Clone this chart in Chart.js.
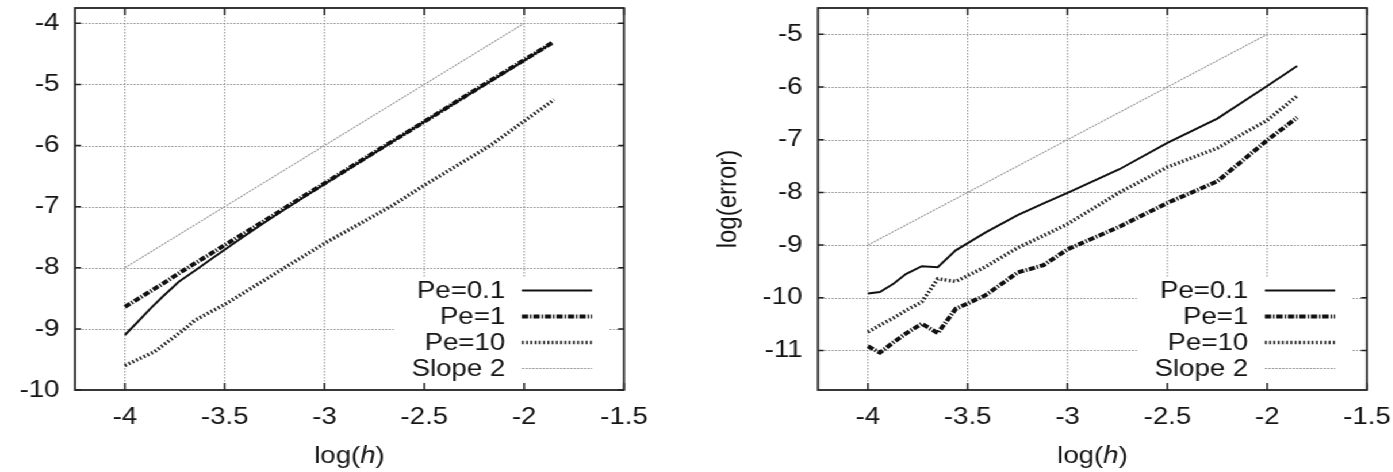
<!DOCTYPE html>
<html><head><meta charset="utf-8">
<script src="https://cdn.jsdelivr.net/npm/chart.js@4/dist/chart.umd.min.js"></script>
<style>
html,body{margin:0;padding:0;background:#fff;overflow:hidden;}
#wrap{position:absolute;left:0;top:0;width:1212px;height:472px;transform:scaleX(1.15);transform-origin:0 0;}
#c1{position:absolute;left:0;top:0;}
#c2{position:absolute;left:605px;top:0;}
</style></head><body>
<div id="wrap"><canvas id="c1" width="605" height="472"></canvas><canvas id="c2" width="607" height="472"></canvas></div>
<script>
// ---------- data ----------
const seriesNames = ['Pe=0.1', 'Pe=1', 'Pe=10', 'Slope 2'];
const xTickValues = [-4, -3.5, -3, -2.5, -2, -1.5];
const leftYTicks  = [-10, -9, -8, -7, -6, -5, -4];
const rightYTicks = [-11, -10, -9, -8, -7, -6, -5];

// left panel
const leftH      = [-4, -3.94, -3.87, -3.81, -3.73, -3.65, -3.56, -3.41, -3.25, -3.12, -3.0, -2.74, -2.5, -2.25, -2.0, -1.86];
const leftPe01   = [-9.10, -8.90, -8.66, -8.47, -8.23, -8.05, -7.84, -7.50, -7.15, -6.88, -6.63, -6.10, -5.61, -5.11, -4.61, -4.32];
const leftPe1    = [-8.64, -8.52, -8.38, -8.26, -8.09, -7.93, -7.75, -7.45, -7.13, -6.86, -6.62, -6.09, -5.61, -5.10, -4.60, -4.32];
const leftPe10H  = [-4, -3.85, -3.70, -3.65, -3.5, -3.2, -3.0, -2.67, -2.5, -2.17, -2.0, -1.85];
const leftPe10   = [-9.60, -9.37, -9.00, -8.86, -8.60, -8.00, -7.60, -7.00, -6.65, -6.00, -5.60, -5.25];
const leftSlopeH = [-4, -2];
const leftSlope  = [-8, -4];

// right panel
const rightH      = [-4, -3.94, -3.87, -3.81, -3.73, -3.65, -3.56, -3.41, -3.25, -3.12, -3.0, -2.74, -2.5, -2.25, -2.0, -1.85];
const rightPe01   = [-9.92, -9.89, -9.73, -9.55, -9.40, -9.42, -9.10, -8.76, -8.43, -8.21, -8.01, -7.56, -7.06, -6.60, -5.98, -5.60];
const rightPe1    = [-10.92, -11.04, -10.84, -10.68, -10.49, -10.67, -10.21, -9.95, -9.52, -9.38, -9.08, -8.65, -8.20, -7.79, -7.01, -6.58];
const rightPe10   = [-10.65, -10.52, -10.38, -10.24, -10.08, -9.64, -9.69, -9.41, -9.05, -8.82, -8.60, -8.00, -7.52, -7.16, -6.63, -6.17];
const rightSlopeH = [-4, -2];
const rightSlope  = [-9, -5];

// ---------- styles ----------
const FONT = "'Liberation Sans', Arial, Helvetica, sans-serif";
const FS = 24;
const TXT = '#151515';
const lineStyles = [
  {color: '#111111', width: 2,   dash: []},
  {color: '#111111', width: 4,   dash: [5.5, 1.6, 1.3, 1.6]},
  {color: '#222222', width: 3.5, dash: [1.6, 2.1]},
  {color: '#9a9a9a', width: 1.2, dash: [2, 1]}
];

Chart.defaults.font.family = FONT;
Chart.defaults.font.size = FS;
Chart.defaults.color = TXT;

function pts(xs, ys) { return xs.map((v, i) => ({x: v, y: ys[i]})); }

function legendBox(a) {
  return {l: a.right - 200, r: a.right - 13, t: a.bottom - 113, b: a.bottom - 1};
}

const gnuFrame = {
  id: 'gnuFrame',
  beforeDatasetsDraw(chart) {
    const {ctx, chartArea: a, scales: {x, y}} = chart;
    const box = legendBox(a);
    ctx.save();
    ctx.lineWidth = 1;
    ctx.strokeStyle = '#8a8a8a';
    ctx.setLineDash([1.5, 1.5]);
    ctx.beginPath();
    x.ticks.forEach(t => {
      const px = x.getPixelForValue(t.value);
      if (px <= a.left + 1 || px >= a.right - 1) return;
      ctx.moveTo(px, a.top); ctx.lineTo(px, a.bottom);
    });
    y.ticks.forEach(t => {
      const py = Math.round(y.getPixelForValue(t.value)) + 0.5;
      if (py <= a.top + 1 || py >= a.bottom - 1) return;
      ctx.moveTo(a.left, py); ctx.lineTo(a.right, py);
    });
    ctx.stroke();
    ctx.setLineDash([]);
    ctx.fillStyle = '#ffffff';
    ctx.fillRect(box.l, box.t, box.r - box.l, box.b - box.t);
    ctx.restore();
  },
  afterDatasetsDraw(chart) {
    const {ctx, chartArea: a, scales: {x, y}} = chart;
    ctx.save();
    // legend
    ctx.font = FS + 'px ' + FONT;
    ctx.fillStyle = TXT;
    ctx.textAlign = 'right';
    ctx.textBaseline = 'middle';
    chart.data.datasets.forEach((ds, i) => {
      const yy = a.bottom - 99.5 + 26 * i;
      ctx.fillText(ds.label, a.right - 103.3, yy + 1);
      const st = lineStyles[i];
      ctx.strokeStyle = st.color;
      ctx.lineWidth = st.width;
      ctx.setLineDash(st.dash);
      ctx.beginPath();
      ctx.moveTo(a.right - 88.8, yy); ctx.lineTo(a.right - 27.7, yy);
      ctx.stroke();
    });
    ctx.setLineDash([]);
    // border
    ctx.strokeStyle = '#222222';
    ctx.lineWidth = 1.8;
    ctx.strokeRect(a.left, a.top, a.right - a.left, a.bottom - a.top);
    // tick marks (inward, mirrored)
    ctx.lineWidth = 1.5;
    ctx.beginPath();
    x.ticks.forEach(t => {
      const px = x.getPixelForValue(t.value);
      ctx.moveTo(px, a.bottom); ctx.lineTo(px, a.bottom - 7);
      ctx.moveTo(px, a.top); ctx.lineTo(px, a.top + 7);
    });
    y.ticks.forEach(t => {
      const py = y.getPixelForValue(t.value);
      ctx.moveTo(a.left, py); ctx.lineTo(a.left + 5.2, py);
      ctx.moveTo(a.right, py); ctx.lineTo(a.right - 5.2, py);
    });
    ctx.stroke();
    // x-axis title: log(h) with italic h
    const cx = (a.left + a.right) / 2, cy = 456;
    const normal = FS + 'px ' + FONT, italic = 'italic ' + FS + 'px ' + FONT;
    ctx.font = normal; const w1 = ctx.measureText('log(').width; const w3 = ctx.measureText(')').width;
    ctx.font = italic; const w2 = ctx.measureText('h').width;
    const sx = cx - (w1 + w2 + w3) / 2;
    ctx.textAlign = 'left';
    ctx.textBaseline = 'middle';
    ctx.fillStyle = TXT;
    ctx.font = normal; ctx.fillText('log(', sx, cy);
    ctx.font = italic; ctx.fillText('h', sx + w1, cy);
    ctx.font = normal; ctx.fillText(')', sx + w1 + w2, cy);
    ctx.restore();
  }
};

function makeDatasets(list) {
  return list.map((d, i) => ({
    label: seriesNames[i],
    data: pts(d[0], d[1]),
    borderColor: lineStyles[i].color,
    borderWidth: lineStyles[i].width,
    borderDash: lineStyles[i].dash,
    pointRadius: 0,
    tension: 0,
    fill: false
  }));
}

function zeroPad(s) { s.paddingTop = 0; s.paddingBottom = 0; s.paddingLeft = 0; s.paddingRight = 0; }

function makeChart(canvas, o) {
  return new Chart(canvas, {
    type: 'line',
    data: {datasets: makeDatasets(o.series)},
    options: {
      responsive: false,
      animation: false,
      devicePixelRatio: 1,
      layout: {padding: {left: 0, right: o.padRight, top: 8, bottom: 0}},
      plugins: {legend: {display: false}, tooltip: {enabled: false}},
      scales: {
        x: {
          type: 'linear', min: -4.25, max: -1.5,
          grid: {display: false, drawTicks: false},
          border: {display: false},
          afterBuildTicks: s => { s.ticks = xTickValues.map(v => ({value: v})); },
          afterFit: s => { s.height = 82; zeroPad(s); },
          ticks: {padding: 12.6, maxRotation: 0, autoSkip: false, callback: v => String(v), color: TXT, font: {size: FS}}
        },
        y: {
          type: 'linear', min: o.yMin, max: o.yMax,
          grid: {display: false, drawTicks: false},
          border: {display: false},
          afterBuildTicks: s => { s.ticks = o.yTicks.map(v => ({value: v})); },
          afterFit: s => { s.width = o.yWidth; zeroPad(s); },
          ticks: {padding: 13.5, autoSkip: false, callback: v => String(v), color: TXT, font: {size: FS}},
          title: {display: !!o.yTitle, text: o.yTitle || '', color: TXT, font: {size: FS}, padding: {top: 13.6, bottom: 0}}
        }
      }
    },
    plugins: [gnuFrame]
  });
}

makeChart(document.getElementById('c1'), {
  series: [[leftH, leftPe01], [leftH, leftPe1], [leftPe10H, leftPe10], [leftSlopeH, leftSlope]],
  yTicks: leftYTicks, yMin: -10, yMax: -3.75, padRight: 62.4, yWidth: 65.2
});
makeChart(document.getElementById('c2'), {
  series: [[rightH, rightPe01], [rightH, rightPe1], [rightH, rightPe10], [rightSlopeH, rightSlope]],
  yTicks: rightYTicks, yMin: -11.75, yMax: -4.5, padRight: 23.3, yWidth: 106.3, yTitle: 'log(error)'
});
</script></body></html>
